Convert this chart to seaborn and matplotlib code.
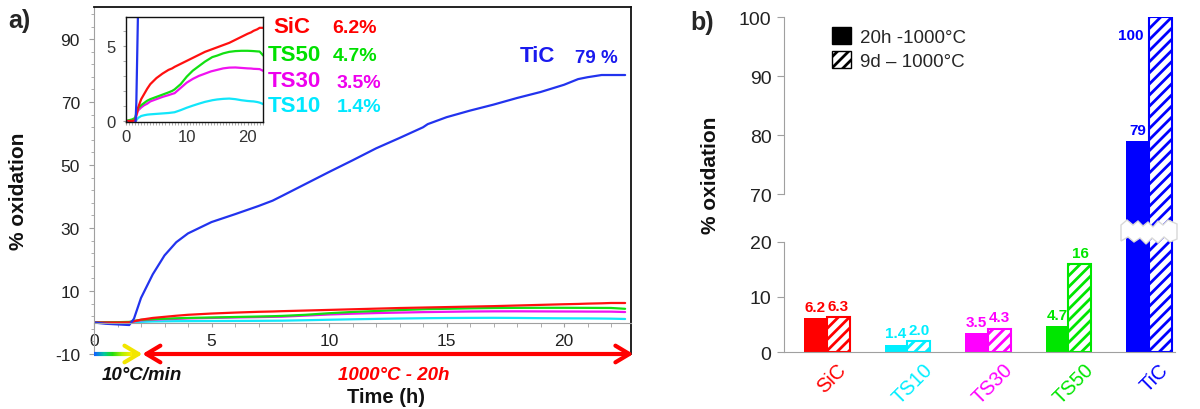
import numpy as np
import pandas as pd
import matplotlib
matplotlib.use("Agg")
import matplotlib.pyplot as plt
import matplotlib.transforms as mtrans
import seaborn as sns
from matplotlib.patches import Patch, Polygon
from matplotlib.collections import LineCollection
from matplotlib.colors import LinearSegmentedColormap
from matplotlib.ticker import MultipleLocator, FixedLocator

# ---------------- data (panel a: oxidation vs time) ----------------
time_h = [0, 0.5, 1.0, 1.5, 1.7, 2.0, 2.5, 3.0, 3.5, 4.0, 5.0, 6.0, 7.0, 7.6, 8.0, 9.0,
          10.0, 11.0, 12.0, 13.0, 14.0, 14.2, 15.0, 16.0, 17.0, 18.0, 19.0, 20.0, 20.6,
          21.0, 21.6, 22.0, 22.6]
sic_ox = [0.0, 0.0, 0.0, 0.05, 0.4, 0.9, 1.45, 1.8, 2.15, 2.45, 2.85, 3.15, 3.4, 3.5, 3.6, 3.8,
          4.0, 4.2, 4.4, 4.6, 4.75, 4.78, 4.9, 5.05, 5.2, 5.4, 5.6, 5.8, 5.9,
          6.0, 6.1, 6.2, 6.2]
ts50_ox = [0.0, 0.05, 0.1, 0.2, 0.5, 0.85, 1.05, 1.2, 1.35, 1.45, 1.6, 1.75, 1.9, 2.0, 2.1, 2.45,
           2.95, 3.35, 3.65, 3.95, 4.2, 4.25, 4.35, 4.5, 4.6, 4.65, 4.67, 4.67, 4.66,
           4.65, 4.63, 4.62, 4.35]
ts30_ox = [0.0, 0.0, -0.05, -0.15, 0.35, 0.7, 0.9, 1.05, 1.15, 1.3, 1.45, 1.6, 1.72, 1.8, 1.85, 2.2,
           2.55, 2.8, 3.0, 3.15, 3.3, 3.32, 3.4, 3.5, 3.55, 3.56, 3.53, 3.5, 3.49,
           3.47, 3.46, 3.45, 3.33]
ts10_ox = [0.0, 0.0, 0.0, 0.0, 0.05, 0.2, 0.33, 0.38, 0.42, 0.44, 0.47, 0.5, 0.53, 0.56, 0.58, 0.72,
           0.88, 1.02, 1.15, 1.27, 1.36, 1.38, 1.43, 1.47, 1.49, 1.45, 1.38, 1.33, 1.31,
           1.3, 1.26, 1.22, 1.12]
tic_ox = [0.0, -0.4, -0.6, -0.8, 1.2, 7.8, 15.3, 21.3, 25.5, 28.3, 31.9, 34.4, 37.0, 38.7, 40.2, 44.0,
          47.8, 51.5, 55.3, 58.6, 62.0, 63.0, 65.2, 67.3, 69.2, 71.3, 73.2, 75.5, 77.3,
          77.9, 78.6, 78.6, 78.6]

samples = ["TS10", "TS30", "TS50", "SiC", "TiC"]
final_pct = {"SiC": "6.2%", "TS50": "4.7%", "TS30": "3.5%", "TS10": "1.4%", "TiC": "79 %"}

# ---------------- data (panel b: bars) ----------------
materials = ["SiC", "TS10", "TS30", "TS50", "TiC"]
ox_20h = [6.2, 1.4, 3.5, 4.7, 79]
ox_9d = [6.3, 2.0, 4.3, 16, 100]
lab_20h = ["6.2", "1.4", "3.5", "4.7", "79"]
lab_9d = ["6.3", "2.0", "4.3", "16", "100"]
conditions = ["20h -1000°C", "9d – 1000°C"]

# ---------------- styles ----------------
line_colors = {"SiC": "#ff1010", "TS50": "#12e012", "TS30": "#f012f0",
               "TS10": "#12e6fa", "TiC": "#2233ee"}
bar_colors = ["#ff0000", "#00eeff", "#ff00ff", "#00e600", "#0000ff"]
text_colors = {"SiC": "#ff0000", "TS50": "#00e000", "TS30": "#ee00ee",
               "TS10": "#00e8ff", "TiC": "#1a1aee"}

sns.set_style("white")
plt.rcParams["font.family"] = ["Liberation Sans", "DejaVu Sans"]
plt.rcParams["hatch.linewidth"] = 2.0
plt.rcParams["axes.unicode_minus"] = False

W, H = 1200, 410
fig = plt.figure(figsize=(12, 4.1), dpi=100)


def fx(x):
    return x / W


def fy(y):
    return 1 - y / H


# long-form line data
df_lines = pd.concat([
    pd.DataFrame({"time": time_h, "ox": vals, "sample": name})
    for name, vals in [("SiC", sic_ox), ("TS50", ts50_ox), ("TS30", ts30_ox),
                       ("TS10", ts10_ox), ("TiC", tic_ox)]
], ignore_index=True)

# ================= panel a: main axes =================
ax = fig.add_axes([fx(94), fy(355), fx(631) - fx(94), fy(8) - fy(355)])
sns.lineplot(data=df_lines, x="time", y="ox", hue="sample", hue_order=samples,
             palette=line_colors, estimator=None, sort=False, legend=False,
             linewidth=1.6, ax=ax)
ax.set_xlim(0, 22.85)
ax.set_ylim(-10, 100.2)
ax.xaxis.set_major_locator(MultipleLocator(5))
ax.xaxis.set_minor_locator(MultipleLocator(1))
ax.yaxis.set_major_locator(FixedLocator([-10, 10, 30, 50, 70, 90]))
ax.yaxis.set_minor_locator(MultipleLocator(4, offset=2))
ax.spines["bottom"].set_position(("data", 0))
ax.spines["bottom"].set_color("#a0a0a0")
ax.spines["left"].set_color("#a0a0a0")
for s in ("top", "right"):
    ax.spines[s].set_color("#111111")
    ax.spines[s].set_linewidth(1.3)
ax.tick_params(axis="both", which="both", direction="out", color="#a0a0a0",
               labelcolor="#222222", labelsize=12.5, bottom=True, left=True)
ax.tick_params(axis="y", which="major", length=3.6, pad=6.5)
ax.tick_params(axis="y", which="minor", length=2.4)
ax.tick_params(axis="x", which="major", length=3.2, pad=4)
ax.tick_params(axis="x", which="minor", length=3.2)

# axis labels
ax.set_ylabel("% oxidation", fontsize=15, fontweight="bold", color="#111111")
ax.yaxis.set_label_coords((28 - 94) / 537, (355 - 191) / 347)
ax.set_xlabel("Time (h)", fontsize=14.5, fontweight="bold", color="#111111")
ax.xaxis.set_label_coords((386 - 94) / 537, (355 - 388) / 347)

# arrows along y = -10
ax.annotate("", xy=(22.95, -10), xytext=(2.06, -10), xycoords="data",
            arrowprops=dict(arrowstyle="<->,head_length=0.5,head_width=0.3",
                            color="#ff0000", lw=3, shrinkA=0, shrinkB=0,
                            mutation_scale=20),
            annotation_clip=False)
grad_cmap = LinearSegmentedColormap.from_list(
    "ramp", ["#1060ff", "#00c8a0", "#20dd10", "#b0ee00", "#ffee00"])
gx = np.linspace(0.0, 1.6, 40)
segs = [[(gx[i], -10), (gx[i + 1], -10)] for i in range(len(gx) - 1)]
lc = LineCollection(segs, colors=grad_cmap(np.linspace(0, 1, len(segs))),
                    linewidths=3, clip_on=False, zorder=5)
ax.add_collection(lc)
ax.annotate("", xy=(2.06, -10), xytext=(1.55, -10), xycoords="data",
            arrowprops=dict(arrowstyle="->,head_length=0.5,head_width=0.3",
                            color="#f2e600", lw=3, shrinkA=0, shrinkB=0,
                            mutation_scale=20),
            annotation_clip=False)
fig.text(fx(142), fy(380), "10°C/min", ha="center", va="baseline",
         fontsize=13.5, fontweight="bold", fontstyle="italic", color="#111111")
fig.text(fx(394), fy(380), "1000°C - 20h", ha="center", va="baseline",
         fontsize=13.5, fontweight="bold", fontstyle="italic", color="#ff0000")

# ================= panel a: inset =================
ax_in = fig.add_axes([fx(126), fy(122.7), fx(263.3) - fx(126), fy(18.3) - fy(122.7)])
sns.lineplot(data=df_lines, x="time", y="ox", hue="sample", hue_order=samples,
             palette=line_colors, estimator=None, sort=False, legend=False,
             linewidth=1.6, ax=ax_in)
ax_in.set_xlim(0, 22.6)
ax_in.set_ylim(-0.05, 6.9)
ax_in.set_xlabel("")
ax_in.set_ylabel("")
ax_in.set_facecolor("white")
ax_in.xaxis.set_major_locator(FixedLocator([0, 10, 20]))
ax_in.xaxis.set_minor_locator(MultipleLocator(0.5))
ax_in.yaxis.set_major_locator(FixedLocator([0, 5]))
ax_in.yaxis.set_minor_locator(MultipleLocator(1))
for s in ax_in.spines.values():
    s.set_color("#111111")
    s.set_linewidth(1.0)
ax_in.tick_params(axis="both", which="both", direction="out", color="#a0a0a0",
                  labelcolor="#333333", labelsize=12, length=2.2, bottom=True, left=True)
ax_in.tick_params(axis="y", pad=5)
ax_in.tick_params(axis="x", pad=3)

# series names with final values
name_pos = {"SiC": (273, 33), "TS50": (268, 61), "TS30": (268, 87), "TS10": (268, 112)}
pct_pos = {"SiC": (332, 33), "TS50": (333, 61), "TS30": (337, 87.5), "TS10": (337, 112.5)}
for name in ["SiC", "TS50", "TS30", "TS10"]:
    fig.text(fx(name_pos[name][0]), fy(name_pos[name][1]), name, ha="left",
             va="baseline", fontsize=16, fontweight="bold", color=text_colors[name])
    fig.text(fx(pct_pos[name][0]), fy(pct_pos[name][1]), final_pct[name], ha="left",
             va="baseline", fontsize=14, fontweight="bold", color=text_colors[name])
fig.text(fx(520), fy(62), "TiC", ha="left", va="baseline", fontsize=16,
         fontweight="bold", color=text_colors["TiC"])
fig.text(fx(575), fy(63), final_pct["TiC"], ha="left", va="baseline", fontsize=13.5,
         fontweight="bold", color=text_colors["TiC"])

fig.text(fx(8), fy(28), "a)", ha="left", va="baseline", fontsize=18, fontweight="bold")
fig.text(fx(690), fy(30), "b)", ha="left", va="baseline", fontsize=18, fontweight="bold")

# ================= panel b: broken-axis bars =================
df_bars = pd.DataFrame({
    "material": materials * 2,
    "ox": ox_20h + ox_9d,
    "condition": [conditions[0]] * len(materials) + [conditions[1]] * len(materials),
})

x_left, x_right = 784, 1175
y_zero, y_meet, y_top = 353.3, 232, 18.3
ax_lo = fig.add_axes([fx(x_left), fy(y_zero), fx(x_right) - fx(x_left), fy(y_meet) - fy(y_zero)])
ax_hi = fig.add_axes([fx(x_left), fy(y_meet), fx(x_right) - fx(x_left), fy(y_top) - fy(y_meet)])

for a in (ax_lo, ax_hi):
    sns.barplot(data=df_bars, x="material", y="ox", hue="condition", order=materials,
                hue_order=conditions, width=0.57, dodge=True, saturation=1,
                errorbar=None, legend=False, ax=a)
    for ci, cont in enumerate(a.containers):
        for p, col in zip(cont.patches, bar_colors):
            if ci == 0:
                p.set_facecolor(col)
                p.set_edgecolor(col)
                p.set_linewidth(0)
            else:
                p.set_facecolor("white")
                p.set_edgecolor(col)
                p.set_hatch("///")
                p.set_linewidth(1.5)
    a.set_xlim(-0.534, 4.323)
    a.set_xlabel("")
    a.set_ylabel("")
    a.set_facecolor("none")
    for s in ("top", "right"):
        a.spines[s].set_visible(False)
    a.spines["left"].set_color("#a0a0a0")
    a.tick_params(axis="y", direction="out", color="#a0a0a0", length=5,
                  labelcolor="#222222", labelsize=14, left=True, pad=4)

ax_lo.set_ylim(0, (y_zero - y_meet) / 5.53)
ax_hi.set_ylim(100 - (y_meet - y_top) / 5.9, 100)
ax_lo.set_yticks([0, 10, 20])
ax_hi.set_yticks([70, 80, 90, 100])
ax_lo.spines["left"].set_bounds(0, 20)
ax_hi.spines["left"].set_bounds(70, 100)
ax_hi.spines["bottom"].set_visible(False)
ax_hi.tick_params(axis="x", bottom=False, labelbottom=False)
ax_lo.spines["bottom"].set_color("#a0a0a0")
ax_lo.set_xticks(range(len(materials)))
ax_lo.set_xticklabels(materials, rotation=45, ha="center", fontsize=14.5)
ax_lo.tick_params(axis="x", length=0, pad=5)
shift = mtrans.ScaledTranslation(5 / 100, 0, fig.dpi_scale_trans)
for lab, col in zip(ax_lo.get_xticklabels(), bar_colors):
    lab.set_color(col)
    lab.set_transform(lab.get_transform() + shift)

# value labels
for ci, labels in enumerate([lab_20h, lab_9d]):
    for i, (p, txt) in enumerate(zip(ax_lo.containers[ci].patches, labels)):
        if materials[i] == "TiC":
            continue
        ax_lo.annotate(txt, (p.get_x() + p.get_width() / 2, p.get_height()),
                       xytext=(0, 3), textcoords="offset points", ha="center",
                       va="bottom", fontsize=11, fontweight="bold", color=bar_colors[i])
tic_i = materials.index("TiC")
p_s = ax_hi.containers[0].patches[tic_i]
ax_hi.annotate(lab_20h[tic_i], (p_s.get_x() + p_s.get_width() / 2, p_s.get_height()),
               xytext=(0, 3), textcoords="offset points", ha="center", va="bottom",
               fontsize=11, fontweight="bold", color=bar_colors[tic_i])
p_h = ax_hi.containers[1].patches[tic_i]
ax_hi.annotate(lab_9d[tic_i], (p_h.get_x(), p_h.get_height()),
               xytext=(-4, -13), textcoords="offset points", ha="right", va="center",
               fontsize=11, fontweight="bold", color=bar_colors[tic_i])

fig.text(fx(710), fy(175), "% oxidation", rotation=90, ha="center", va="center",
         fontsize=15, fontweight="bold", color="#111111")

# legend
handles = [Patch(facecolor="black", edgecolor="black"),
           Patch(facecolor="white", edgecolor="black", hatch="///")]
fig.legend(handles, conditions, loc="upper left", bbox_to_anchor=(fx(832), fy(28)),
           frameon=False, fontsize=13.5, handlelength=1.0, handleheight=1.0,
           handletextpad=0.5, labelspacing=0.3, borderpad=0, borderaxespad=0)

# axis-break tear across the TiC bars
top_x = [1121, 1127, 1133, 1138, 1143, 1148, 1153, 1158, 1163, 1168, 1177]
top_y = [226, 221, 226, 222, 227, 223, 228, 222, 226, 221, 225]
bot_x = [1177, 1170, 1164, 1158, 1152, 1146, 1140, 1134, 1128, 1121]
bot_y = [240, 243, 238, 244, 239, 245, 239, 243, 238, 242]
pts = [(fx(x), fy(y)) for x, y in zip(top_x + bot_x, top_y + bot_y)]
tear = Polygon(pts, closed=True, transform=fig.transFigure, facecolor="white",
               edgecolor="#d8d8d8", linewidth=1.0, zorder=10)
fig.add_artist(tear)

fig.savefig("out.png", dpi=100)
